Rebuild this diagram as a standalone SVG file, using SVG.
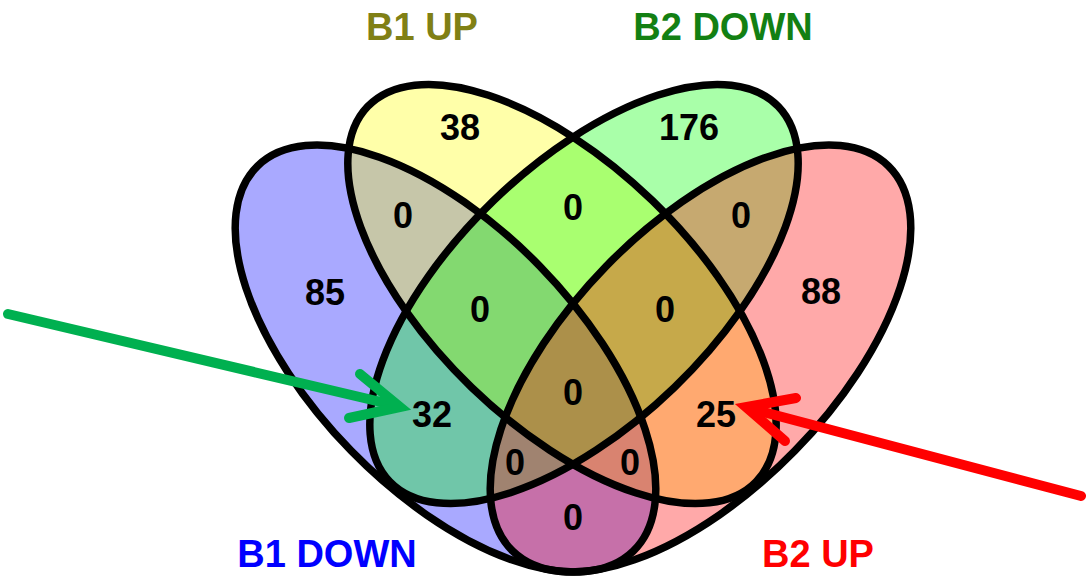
<svg xmlns="http://www.w3.org/2000/svg" width="1086" height="584" viewBox="0 0 1086 584">
  <style>
    .fill { stroke: none; fill-opacity: 0.337; }
    .outline { fill: none; stroke: #000; stroke-width: 7.5; }
    .num { font-family: "Liberation Sans", Arial, sans-serif; font-weight: bold; font-size: 36px; fill: #000; text-anchor: middle; }
    .cat { font-family: "Liberation Sans", Arial, sans-serif; font-weight: bold; font-size: 38px; text-anchor: middle; }
    .arrow { fill: none; stroke-width: 10; stroke-linecap: round; stroke-linejoin: miter; }
  </style>
  <defs>
    <ellipse id="e-b1down" cx="445.5" cy="358.5" rx="269" ry="132" transform="rotate(45.7 445.5 358.5)"/>
    <ellipse id="e-b1up" cx="562" cy="294" rx="270" ry="130" transform="rotate(44 562 294)"/>
    <ellipse id="e-b2down" cx="584" cy="294" rx="270" ry="130" transform="rotate(-44 584 294)"/>
    <ellipse id="e-b2up" cx="700.5" cy="358.5" rx="269" ry="132" transform="rotate(-45.7 700.5 358.5)"/>
  </defs>
  <rect width="1086" height="584" fill="#fff"/>

  <g id="set-b1-down">
    <use href="#e-b1down" class="fill" fill="#0000ff"/>
    <text class="cat" x="327" y="567" fill="#0000ff">B1 DOWN</text>
  </g>
  <g id="set-b1-up">
    <use href="#e-b1up" class="fill" fill="#ffff00"/>
    <text class="cat" x="422" y="40" fill="#808015">B1 UP</text>
  </g>
  <g id="set-b2-down">
    <use href="#e-b2down" class="fill" fill="#00ff00"/>
    <text class="cat" x="723" y="40" fill="#138013">B2 DOWN</text>
  </g>
  <g id="set-b2-up">
    <use href="#e-b2up" class="fill" fill="#ff0000"/>
    <text class="cat" x="818" y="567" fill="#ff0000">B2 UP</text>
  </g>

  <g id="outlines">
    <use href="#e-b1down" class="outline"/>
    <use href="#e-b1up" class="outline"/>
    <use href="#e-b2down" class="outline"/>
    <use href="#e-b2up" class="outline"/>
  </g>

  <g id="counts">
    <text class="num" x="460" y="140">38</text>
    <text class="num" x="689" y="140">176</text>
    <text class="num" x="403" y="228">0</text>
    <text class="num" x="573" y="220">0</text>
    <text class="num" x="741" y="228">0</text>
    <text class="num" x="325" y="305">85</text>
    <text class="num" x="821" y="304">88</text>
    <text class="num" x="480" y="322">0</text>
    <text class="num" x="665" y="322">0</text>
    <text class="num" x="432" y="427">32</text>
    <text class="num" x="573" y="405">0</text>
    <text class="num" x="716" y="427">25</text>
    <text class="num" x="515" y="475">0</text>
    <text class="num" x="630" y="475">0</text>
    <text class="num" x="573" y="530">0</text>
  </g>

  <g id="connectors">
    <g id="arrow-green" stroke="#00b050">
      <line class="arrow" x1="8" y1="314" x2="398" y2="406"/>
      <polyline class="arrow" points="360,374 400,407 349,418"/>
    </g>
    <g id="arrow-red" stroke="#ff0000">
      <line class="arrow" x1="1081" y1="496" x2="748" y2="408"/>
      <polyline class="arrow" points="796,398 746,407 785,441"/>
    </g>
  </g>
</svg>
